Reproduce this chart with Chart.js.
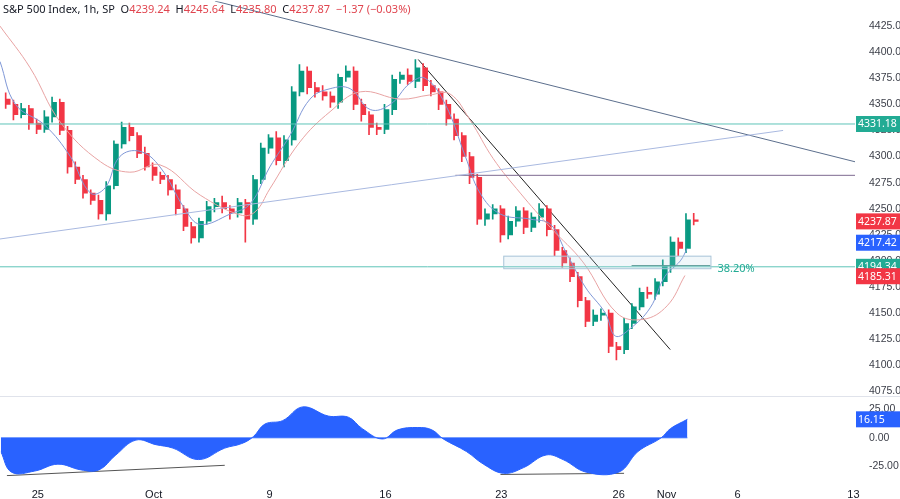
<!DOCTYPE html>
<html>
<head>
<meta charset="utf-8">
<script src="https://cdn.jsdelivr.net/npm/chart.js@4.4.0/dist/chart.umd.min.js"></script>
<style>
  body { margin: 0; background: #fff; font-family: "Noto Sans", sans-serif; overflow: hidden; }
  #main { position: absolute; left: 0; top: -11px; width: 900px; height: 423px; }
  #osc { position: absolute; left: 0; top: 385.5px; width: 900px; height: 119.5px; }
  #sep { position: absolute; left: 0; top: 396px; width: 900px; height: 1px; background: #e0e3eb; }
  #legend { position: absolute; left: 3px; top: 1px; font-size: 11px; color: #131722; white-space: nowrap; }
  #legend .v { color: #e0454f; }
</style>
</head>
<body>
<div id="sep"></div>
<div id="main"><canvas id="cMain"></canvas></div>
<div id="osc"><canvas id="cOsc"></canvas></div>
<div id="legend">S&amp;P 500 Index, 1h, SP&nbsp; O<span class="v">4239.24</span>&nbsp; H<span class="v">4245.64</span>&nbsp; L<span class="v">4235.80</span>&nbsp; C<span class="v">4237.87</span>&nbsp; <span class="v">−1.37 (−0.03%)</span></div>
<script>
// --- data (bar index: 0 = Sep 25, 15 bars per week) ---
const xTickPos = [0, 15, 30, 45, 60, 75.2, 81.4, 90.6, 105.6];
const xTickLabels = ['25', 'Oct', '9', '16', '23', '26', 'Nov', '6', '13'];
const priceTicks = [4075, 4100, 4125, 4150, 4175, 4200, 4225, 4250, 4275, 4300, 4325, 4350, 4375, 4400, 4425];
const oscTicks = [-25, 0, 25];

const firstBar = -4;
const closes = [4350,4340,4346,4332,4326,4338,4352,4325,4290,4278,
  4265,4258,4245,4272,4312,4328,4320,4303,4290,4282,
  4278,4268,4250,4233,4222,4238,4252,4256,4250,4246,
  4256,4240,4278,4308,4318,4296,4316,4362,4382,4366,
  4362,4358,4352,4376,4382,4350,4340,4328,4326,4345,
  4374,4378,4372,4385,4368,4362,4350,4336,4320,4300,
  4280,4240,4245,4250,4225,4238,4248,4232,4242,4250,
  4230,4210,4198,4185,4162,4142,4148,4150,4118,4115,
  4140,4156,4170,4168,4180,4195,4218,4212,4239.24,4237.87];
const firstOpen = 4355;
const wickHi = [6,4,5,3,4,6,5,3,4,5, 4,3,5,4,3,5,4,3,6,4, 3,4,5,3,4,3,5,4,6,3,
  4,3,4,5,3,6,4,5,6,4, 5,6,4,3,5,4,5,3,4,5, 4,3,6,8,4,5,3,4,5,3,
  4,3,5,4,3,5,4,3,4,5, 3,4,3,5,4,3,5,4,3,4, 5,3,4,5,3,6,5,4,6,6.4];
const wickLo = [4,5,3,6,4,3,5,4,6,4, 5,4,5,6,3,4,5,4,3,5, 4,5,6,4,5,4,3,5,4,6,
  4,22,5,4,5,4,6,5,4,6, 5,4,5,6,4,5,6,7,5,4, 5,4,3,6,5,4,5,6,4,5,
  6,5,6,5,7,4,5,6,4,5, 6,5,4,5,6,5,4,5,6,10, 4,5,3,4,5,4,6,7,4,3.4];

const fastMaX = [-4.8,-2.8,1.0,4.3,6.9,8.8,10.7,13.3,15.9,19.1,21.1,25.0,27.6,30.1,32.7,35.3,37.9,40.5,43.1,45.7,48.2,50.2,52.8,55.4,57.3,59.9,63.8,66.4,68.3,70.9,73.5,74.8,76.7,79.3,81.2,83.2,84.1];
const fastMa = [4391,4350,4330,4300,4265,4270,4300,4305,4290,4250,4235,4245,4255,4290,4320,4355,4365,4365,4345,4350,4370,4375,4350,4300,4265,4245,4240,4235,4210,4175,4150,4128,4135,4155,4185,4200,4212];
const slowMaX = [-4.8,-0.9,3.0,8.2,12.0,15.9,21.1,26.3,28.2,30.1,34.0,37.9,41.8,47.0,50.8,53.4,56.0,59.0,62.5,66.4,70.6,75.0,78.4,81.5,83.8];
const slowMa = [4425,4385,4333,4295,4285,4292,4263,4244,4247,4269,4314,4343,4362,4355,4359,4360,4335,4298,4265,4232,4199,4150,4144,4157,4186];

const oscX = [-4.8,-3.4,-0.4,2.6,5.6,7.9,10.1,12.7,15.3,17.5,20.8,24.2,26.4,27.9,29.4,31.7,34.3,37.6,40.2,42.0,44.6,46.6,49.2,51.0,52.5,55.5,57.7,60.3,62.9,65.8,68.0,71.0,75.2,77.7,80.7,81.9,84.1];
const oscVal = [-12,-30,-29,-23,-28,-28,-15,-2,-6,-9,-19,-9,-5,1,12,15,27,19,18,8,-1,7,9,7,-1,-12,-23,-31,-26,-15,-19,-30,-30,-12,0,8,16.15];
const oscLine1 = [[-4.0, -33], [24.2, -24]];
const oscLine2 = [[59.9, -32], [75.9, -31]];

// drawings
const topTrend = [[23.0, 4449], [105.8, 4295]];
const lowTrend = [[-4.8, 4221], [96.5, 4325]];
const breakTrend = [[49.3, 4393], [81.9, 4115]];
const resistLine = [[54.1, 4282], [105.8, 4282]];
const level1 = 4331.18;
const level2 = 4194.34;
const fibBox = { x0: 60.3, x1: 87.1, top: 4205, bottom: 4193 };
const fibLine = [[76.9, 4195.5], [87.1, 4195.5]];
const fibLabel = '38.20%';

const priceTags = [4331.18, 4237.87, 4217.42, 4194.34, 4185.31];
const priceTagColors = ['#22ab94', '#f23645', '#2962ff', '#22ab94', '#f23645'];

const X_MIN = -4.8, X_MAX = 105.8;
const UP = '#089981', DOWN = '#f23645';

// --- build candles ---
const opens = [firstOpen].concat(closes.slice(0, -1));
const bodies = closes.map((c, i) => ({ x: firstBar + i, y: [opens[i], c] }));
const wicks = closes.map((c, i) => ({
  x: firstBar + i,
  y: [Math.min(opens[i], c) - wickLo[i], Math.max(opens[i], c) + wickHi[i]]
}));
const colors = closes.map((c, i) => c >= opens[i] ? UP : DOWN);

const pts = arr => arr.map(p => ({ x: p[0], y: p[1] }));
const seg = (data, color, width) => ({
  type: 'line', data: pts(data), borderColor: color, borderWidth: width || 1,
  pointRadius: 0, fill: false, tension: 0
});

const priceTagPlugin = {
  id: 'tags',
  afterDraw(chart, args, opts) {
    const ctx = chart.ctx;
    const y = chart.scales.y, x = chart.scales.x;
    ctx.save();
    // fib box
    if (opts.fib) {
      const fx0 = x.getPixelForValue(fibBox.x0), fx1 = x.getPixelForValue(fibBox.x1);
      const fy0 = y.getPixelForValue(fibBox.top), fy1 = y.getPixelForValue(fibBox.bottom);
      ctx.fillStyle = 'rgba(178, 208, 230, 0.18)';
      ctx.fillRect(fx0, fy0, fx1 - fx0, fy1 - fy0);
      ctx.strokeStyle = '#a9c4d8';
      ctx.lineWidth = 1;
      ctx.strokeRect(fx0 + 0.5, fy0 + 0.5, fx1 - fx0, fy1 - fy0);
      ctx.fillStyle = '#22ab94';
      ctx.font = '11px "Noto Sans"';
      ctx.textBaseline = 'middle';
      ctx.fillText(fibLabel, fx1 + 7, y.getPixelForValue(level2) + 2);
    }
    (opts.tags || []).forEach(t => {
      const py = y.getPixelForValue(t.value);
      ctx.fillStyle = t.color;
      ctx.fillRect(chart.chartArea.right + 1, py - 8, 44, 16);
      ctx.fillStyle = '#fff';
      ctx.font = '10.5px "Noto Sans"';
      ctx.textBaseline = 'middle';
      ctx.textAlign = 'left';
      ctx.fillText(t.text, chart.chartArea.right + 3, py + 0.5);
    });
    ctx.restore();
  }
};

const xScale = (showTicks) => ({
  type: 'linear', min: X_MIN, max: X_MAX, offset: false,
  grid: { display: false }, border: { display: false },
  display: showTicks ? true : false,
  afterBuildTicks: s => { s.ticks = xTickPos.map(v => ({ value: v })); },
  ticks: {
    autoSkip: false, maxRotation: 0, color: '#131722', font: { size: 11 }, padding: 4,
    callback: (v, i) => xTickLabels[i]
  }
});

const yScale = (min, max, ticks) => ({
  position: 'right', min: min, max: max,
  grid: { display: false }, border: { display: false },
  afterBuildTicks: s => { s.ticks = ticks.map(v => ({ value: v })); },
  afterFit: s => { s.width = 45; },
  ticks: { color: '#3b3e48', font: { size: 10.5 }, padding: 6, callback: v => v.toFixed(2) }
});

new Chart(document.getElementById('cMain'), {
  type: 'bar',
  data: {
    datasets: [
      seg(lowTrend, '#a9b9e0'),
      seg(topTrend, '#5c6f8d'),
      seg([[X_MIN, level1], [X_MAX, level1]], '#5ec4b8'),
      seg([[X_MIN, level2], [X_MAX, level2]], '#5ec4b8'),
      seg(resistLine, '#7d6a90'),
      seg(fibLine, '#4a8d86'),
      {
        type: 'line', data: slowMaX.map((x, i) => ({ x: x, y: slowMa[i] })),
        borderColor: '#e8a3a3', borderWidth: 1, pointRadius: 0, tension: 0.4
      },
      {
        type: 'line', data: fastMaX.map((x, i) => ({ x: x, y: fastMa[i] })),
        borderColor: '#7f97d6', borderWidth: 1, pointRadius: 0, tension: 0.4
      },
      { data: wicks, backgroundColor: colors, barThickness: 1 },
      { data: bodies, backgroundColor: colors, barThickness: 4 },
      seg(breakTrend, '#222'),
    ]
  },
  options: {
    responsive: true, maintainAspectRatio: false, animation: false,
    layout: { padding: 0 },
    plugins: {
      legend: { display: false }, tooltip: { enabled: false },
      tags: {
        fib: true,
        tags: priceTags.map((v, i) => ({ value: v, text: v.toFixed(2), color: priceTagColors[i] }))
      }
    },
    scales: { x: xScale(false), y: yScale(4067, 4448.75, priceTicks) }
  },
  plugins: [priceTagPlugin]
});

new Chart(document.getElementById('cOsc'), {
  type: 'line',
  data: {
    datasets: [
      {
        data: oscX.map((x, i) => ({ x: x, y: oscVal[i] })),
        borderColor: '#2962ff', backgroundColor: '#2962ff', borderWidth: 1,
        pointRadius: 0, tension: 0.4, fill: 'origin'
      },
      seg([[X_MIN, 0], [84.1, 0]], '#8fb1ff', 1.5),
      seg(oscLine1, '#555'),
      seg(oscLine2, '#555'),
    ]
  },
  options: {
    responsive: true, maintainAspectRatio: false, animation: false,
    layout: { padding: 0 },
    plugins: {
      legend: { display: false }, tooltip: { enabled: false },
      tags: { tags: [{ value: 16.15, text: '16.15', color: '#2962ff' }] }
    },
    scales: { x: xScale(true), y: yScale(-33.6, 34.5, oscTicks) }
  },
  plugins: [priceTagPlugin]
});
</script>
</body>
</html>
